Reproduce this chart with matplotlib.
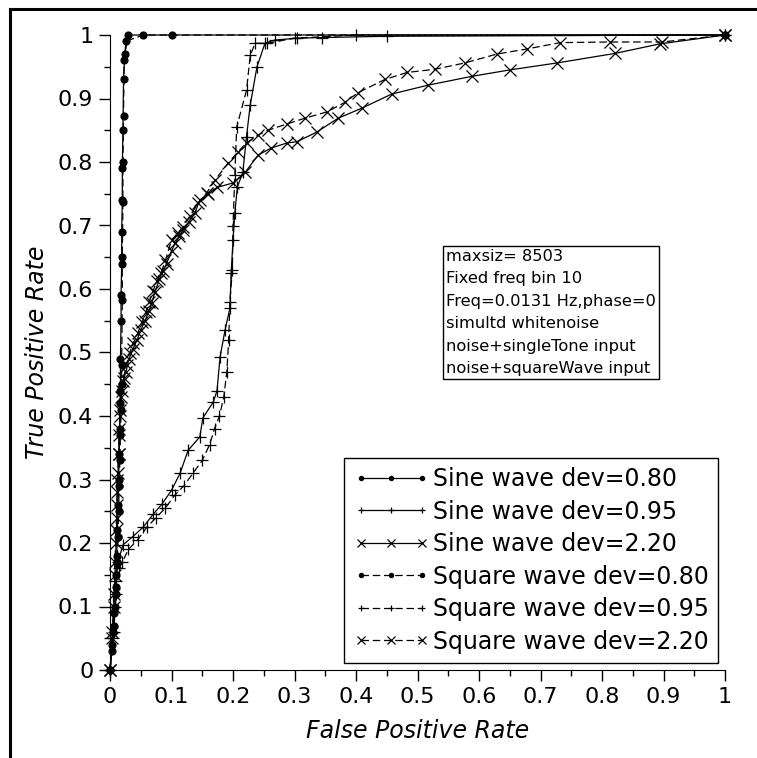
import matplotlib
matplotlib.use("Agg")
import matplotlib.pyplot as plt
from matplotlib.lines import Line2D
from matplotlib.ticker import MultipleLocator

# ROC points (fpr, tpr) for each detector setting
sine80_fpr = [0.0, 0.003, 0.005, 0.007, 0.009, 0.010, 0.011, 0.012, 0.013, 0.014, 0.015, 0.016,
              0.016, 0.017, 0.017, 0.018, 0.018, 0.019, 0.019, 0.020, 0.020, 0.021, 0.022, 0.024,
              0.030, 1.0]
sine80_tpr = [0.0, 0.03, 0.06, 0.09, 0.12, 0.15, 0.18, 0.22, 0.26, 0.30, 0.34, 0.38,
              0.42, 0.44, 0.49, 0.55, 0.59, 0.64, 0.69, 0.74, 0.79, 0.85, 0.93, 0.97,
              1.0, 1.0]

sine95_fpr = [0.0, 0.005, 0.008, 0.010, 0.013, 0.021, 0.037, 0.054, 0.070, 0.085, 0.100, 0.114,
              0.127, 0.146, 0.151, 0.168, 0.174, 0.179, 0.187, 0.195, 0.197, 0.200, 0.203, 0.207,
              0.216, 0.222, 0.228, 0.239, 0.252, 0.268, 0.304, 0.345, 0.450, 1.0]
sine95_tpr = [0.0, 0.05, 0.10, 0.14, 0.17, 0.197, 0.21, 0.225, 0.245, 0.262, 0.283, 0.31,
              0.346, 0.367, 0.397, 0.422, 0.44, 0.493, 0.535, 0.57, 0.625, 0.677, 0.72, 0.76,
              0.784, 0.84, 0.89, 0.95, 0.987, 0.992, 0.995, 0.996, 0.998, 1.0]

sine22_fpr = [0.0, 0.004, 0.006, 0.008, 0.010, 0.011, 0.012, 0.013, 0.014, 0.015, 0.016, 0.018,
              0.021, 0.026, 0.031, 0.037, 0.044, 0.050, 0.057, 0.063, 0.068, 0.073, 0.080, 0.086,
              0.092, 0.100, 0.106, 0.113, 0.119, 0.128, 0.138, 0.146, 0.160, 0.174, 0.200, 0.220,
              0.241, 0.262, 0.288, 0.304, 0.336, 0.371, 0.410, 0.458, 0.517, 0.589, 0.650, 0.727,
              0.821, 0.894, 1.0]
sine22_tpr = [0.0, 0.05, 0.10, 0.15, 0.20, 0.24, 0.28, 0.31, 0.34, 0.37, 0.40, 0.43,
              0.455, 0.47, 0.49, 0.505, 0.52, 0.535, 0.55, 0.565, 0.578, 0.595, 0.615, 0.628,
              0.64, 0.66, 0.672, 0.683, 0.693, 0.705, 0.72, 0.74, 0.75, 0.76, 0.767, 0.784,
              0.811, 0.822, 0.83, 0.832, 0.847, 0.869, 0.885, 0.907, 0.921, 0.935, 0.945, 0.956,
              0.971, 0.986, 1.0]

sq80_fpr = [0.0, 0.004, 0.006, 0.008, 0.010, 0.012, 0.013, 0.014, 0.015, 0.016, 0.017, 0.018,
            0.019, 0.019, 0.020, 0.020, 0.021, 0.021, 0.022, 0.023, 0.026, 0.054, 0.100, 1.0]
sq80_tpr = [0.0, 0.04, 0.07, 0.10, 0.13, 0.17, 0.21, 0.25, 0.29, 0.33, 0.37, 0.41,
            0.45, 0.48, 0.583, 0.65, 0.737, 0.80, 0.872, 0.96, 0.99, 1.0, 1.0, 1.0]

sq95_fpr = [0.0, 0.006, 0.010, 0.015, 0.020, 0.030, 0.045, 0.060, 0.075, 0.090, 0.105, 0.120,
            0.135, 0.150, 0.162, 0.170, 0.178, 0.185, 0.190, 0.193, 0.195, 0.199, 0.200, 0.203,
            0.206, 0.222, 0.228, 0.236, 0.255, 0.300, 0.400, 1.0]
sq95_tpr = [0.0, 0.06, 0.12, 0.16, 0.17, 0.19, 0.205, 0.225, 0.24, 0.255, 0.275, 0.29,
            0.31, 0.33, 0.355, 0.38, 0.40, 0.43, 0.47, 0.52, 0.58, 0.63, 0.70, 0.78,
            0.855, 0.913, 0.968, 0.987, 0.987, 0.995, 1.0, 1.0]

sq22_fpr = [0.0, 0.004, 0.006, 0.008, 0.010, 0.011, 0.012, 0.014, 0.015, 0.017, 0.019, 0.022,
            0.027, 0.032, 0.038, 0.045, 0.052, 0.058, 0.064, 0.070, 0.076, 0.083, 0.090, 0.100,
            0.110, 0.119, 0.130, 0.143, 0.157, 0.171, 0.192, 0.208, 0.222, 0.240, 0.257, 0.288,
            0.317, 0.353, 0.382, 0.403, 0.447, 0.483, 0.528, 0.577, 0.629, 0.678, 0.732, 0.813,
            0.898, 1.0]
sq22_tpr = [0.0, 0.06, 0.12, 0.17, 0.22, 0.26, 0.30, 0.34, 0.38, 0.41, 0.44, 0.46,
            0.48, 0.50, 0.515, 0.53, 0.548, 0.563, 0.58, 0.597, 0.612, 0.625, 0.645, 0.677,
            0.688, 0.698, 0.715, 0.735, 0.751, 0.772, 0.798, 0.816, 0.83, 0.842, 0.85, 0.86,
            0.869, 0.879, 0.894, 0.909, 0.93, 0.941, 0.946, 0.956, 0.97, 0.978, 0.988, 0.989,
            0.989, 1.0]

labels = ["Sine wave dev=0.80", "Sine wave dev=0.95", "Sine wave dev=2.20",
          "Square wave dev=0.80", "Square wave dev=0.95", "Square wave dev=2.20"]

info_lines = ["maxsiz= 8503", "Fixed freq bin 10", "Freq=0.0131 Hz,phase=0",
              "simultd whitenoise", "noise+singleTone input", "noise+squareWave input"]

fig = plt.figure(figsize=(7.57, 7.58), dpi=100)
ax = fig.add_axes([110 / 757, 1 - 670 / 758, 615 / 757, 635 / 758])

series = [
    (sine80_fpr, sine80_tpr, "-", "o", 5),
    (sine95_fpr, sine95_tpr, "-", "+", 8),
    (sine22_fpr, sine22_tpr, "-", "x", 9),
    (sq80_fpr, sq80_tpr, "--", "o", 5),
    (sq95_fpr, sq95_tpr, "--", "+", 8),
    (sq22_fpr, sq22_tpr, "--", "x", 9),
]
for (fx, ty, ls, mk, ms), lab in zip(series, labels):
    ax.plot(fx, ty, linestyle=ls, marker=mk, markersize=ms, color="black",
            linewidth=0.9, markeredgewidth=0.9, label=lab, clip_on=False,
            dashes=(6, 3) if ls == "--" else (None, None))

ax.set_xlim(0, 1)
ax.set_ylim(0, 1)
ax.xaxis.set_major_locator(MultipleLocator(0.1))
ax.yaxis.set_major_locator(MultipleLocator(0.1))
ax.xaxis.set_minor_locator(MultipleLocator(0.05))
ax.yaxis.set_minor_locator(MultipleLocator(0.05))
ax.xaxis.set_major_formatter(plt.FuncFormatter(lambda v, p: f"{v:g}"))
ax.yaxis.set_major_formatter(plt.FuncFormatter(lambda v, p: f"{v:g}"))
ax.tick_params(which="major", direction="out", length=8, width=1, labelsize=16, pad=4)
ax.tick_params(which="minor", direction="out", length=4, width=1)
ax.spines["top"].set_visible(False)
ax.spines["right"].set_visible(False)

ax.set_xlabel("False Positive Rate", fontsize=17, style="italic", labelpad=9)
ax.set_ylabel("True Positive Rate", fontsize=17, style="italic", labelpad=6)

leg = ax.legend(loc="lower right", bbox_to_anchor=(608 / 615, 7 / 635), borderaxespad=0,
                fontsize=17, numpoints=3, markerscale=0.6, handlelength=3.2,
                handletextpad=0.15, labelspacing=0.36, fancybox=False, framealpha=1,
                borderpad=0.4)
leg.get_frame().set_edgecolor("black")
leg.get_frame().set_linewidth(1)

ax.text((446 - 110) / 615, (670 - 249) / 635, "\n".join(info_lines), transform=ax.transAxes,
        ha="left", va="top", fontsize=11.7, linespacing=1.62,
        bbox=dict(boxstyle="square,pad=0.2", fc="white", ec="black", lw=1))

# outer frame around the figure
fig.add_artist(Line2D([10 / 757, 10 / 757], [0, 1 - 9 / 758], color="black", lw=2.2,
                      transform=fig.transFigure))
fig.add_artist(Line2D([10 / 757, 1], [1 - 9 / 758, 1 - 9 / 758], color="black", lw=2.2,
                      transform=fig.transFigure))

fig.savefig("out.png", dpi=100)
